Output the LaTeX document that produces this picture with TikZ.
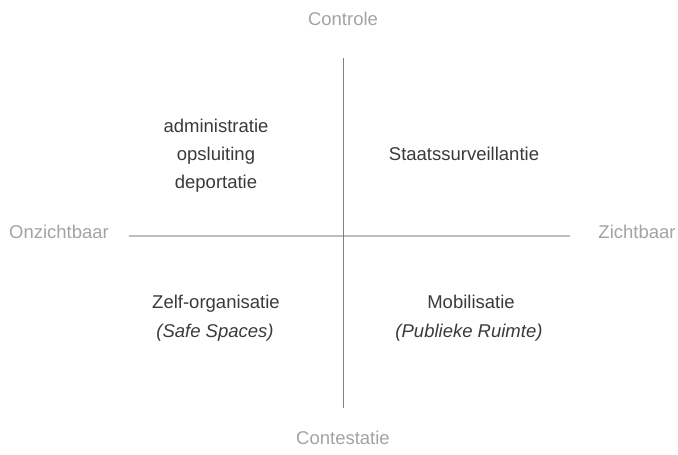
\documentclass[tikz,border=0pt]{standalone}
\usepackage{fontspec}
\setmainfont{Liberation Sans}
\definecolor{txt}{HTML}{3A3A3A}
\definecolor{lbl}{HTML}{A3A3A3}
\definecolor{vaxis}{HTML}{808080}
\definecolor{haxis}{HTML}{BDBDBD}
\begin{document}
\begin{tikzpicture}[x=1pt,y=-1pt,
  main/.style={font=\fontsize{18.5}{22}\selectfont, text=txt, anchor=base, inner sep=0pt},
  axlbl/.style={font=\fontsize{18.5}{22}\selectfont, text=lbl, anchor=base, inner sep=0pt},
  vline/.style={draw=vaxis, line width=0.9pt},
  hline/.style={draw=haxis, line width=1.1pt}]
\useasboundingbox (0,0) rectangle (678,455);
\coordinate (vt) at (343,58);
\coordinate (vb) at (343,408);
\coordinate (hl) at (129,236);
\coordinate (hr) at (570,236);
\draw[hline] (hl) -- (hr);
\draw[vline] (vt) -- (vb);
\node[axlbl] (ctrl) at (343,25) {Controle};
\node[axlbl] (cont) at (343,444) {Contestatie};
\node[axlbl] (onz) at (59,238) {Onzichtbaar};
\node[axlbl] (zic) at (637,238) {Zichtbaar};
\node[main] (adm) at (216,132) {administratie};
\node[main] (ops) at (216,160) {opsluiting};
\node[main] (dep) at (216,188) {deportatie};
\node[main] (sta) at (464,160) {Staatssurveillantie};
\node[main] (zelf) at (216,308) {Zelf-organisatie};
\node[main] (safe) at (215,337) {\itshape (Safe Spaces)};
\node[main] (mob) at (471,308) {Mobilisatie};
\node[main] (pub) at (469,337) {\itshape (Publieke Ruimte)};
\end{tikzpicture}
\end{document}
